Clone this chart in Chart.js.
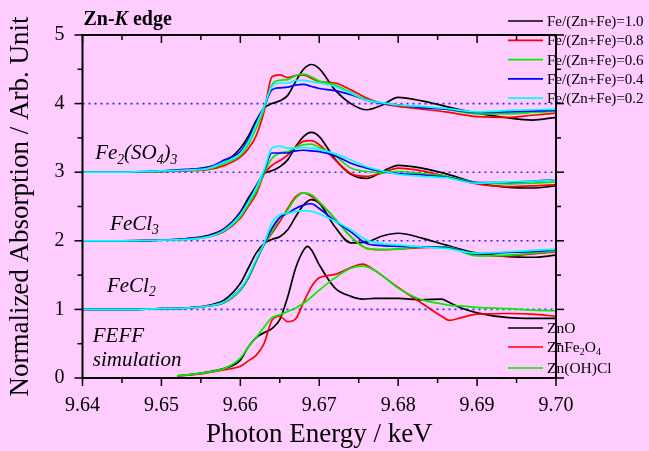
<!DOCTYPE html>
<html>
<head>
<meta charset="utf-8">
<script src="https://cdn.jsdelivr.net/npm/chart.js@4.4.1/dist/chart.umd.min.js"></script>
<style>
  html, body { margin: 0; padding: 0; background: #ffccff; }
  #wrap { width: 649px; height: 451px; position: relative; }
</style>
</head>
<body>
<div id="wrap"><canvas id="myChart"></canvas></div>
<script>
// energy grid of the measured spectra (keV)
const energy = [9.640, 9.645, 9.650, 9.653, 9.656, 9.658, 9.660, 9.661, 9.662, 9.663, 9.664, 9.665, 9.666, 9.667,
  9.668, 9.669, 9.670, 9.672, 9.674, 9.676, 9.678, 9.680, 9.683, 9.686, 9.690, 9.694, 9.697, 9.700];

// Fe2(SO4)3 group, offset +3
const so4_10 = [3.00, 3.00, 3.01, 3.03, 3.08, 3.15, 3.35, 3.52, 3.75, 3.93, 4.00, 4.04, 4.12, 4.32, 4.50, 4.57, 4.51, 4.20, 4.00, 3.91, 3.98, 4.09, 4.04, 3.96, 3.86, 3.79, 3.76, 3.80];
const so4_08 = [3.00, 3.00, 3.01, 3.02, 3.04, 3.10, 3.22, 3.34, 3.53, 3.88, 4.39, 4.42, 4.38, 4.41, 4.42, 4.37, 4.32, 4.30, 4.20, 4.08, 4.00, 3.96, 3.92, 3.88, 3.81, 3.80, 3.83, 3.86];
const so4_06 = [3.00, 3.00, 3.01, 3.03, 3.05, 3.13, 3.25, 3.40, 3.64, 3.92, 4.27, 4.34, 4.35, 4.41, 4.43, 4.39, 4.33, 4.27, 4.16, 4.06, 4.01, 3.98, 3.95, 3.92, 3.85, 3.85, 3.87, 3.89];
const so4_04 = [3.00, 3.00, 3.02, 3.04, 3.07, 3.18, 3.30, 3.47, 3.72, 3.95, 4.20, 4.23, 4.24, 4.27, 4.28, 4.25, 4.22, 4.19, 4.13, 4.05, 4.00, 3.98, 3.94, 3.92, 3.87, 3.88, 3.89, 3.90];
const so4_02 = [3.00, 3.00, 3.02, 3.03, 3.06, 3.15, 3.27, 3.44, 3.69, 3.95, 4.25, 4.30, 4.30, 4.34, 4.34, 4.32, 4.30, 4.25, 4.15, 4.05, 4.01, 3.98, 3.96, 3.93, 3.88, 3.90, 3.91, 3.92];

// FeCl3 group, offset +2
const fecl3_10 = [2.00, 2.00, 2.01, 2.03, 2.08, 2.18, 2.42, 2.62, 2.80, 2.98, 3.02, 3.08, 3.18, 3.37, 3.52, 3.58, 3.52, 3.19, 2.97, 2.91, 3.01, 3.10, 3.06, 2.98, 2.84, 2.78, 2.77, 2.80];
const fecl3_08 = [2.00, 2.00, 2.01, 2.02, 2.06, 2.14, 2.33, 2.50, 2.68, 2.97, 3.10, 3.17, 3.25, 3.37, 3.45, 3.46, 3.40, 3.18, 2.98, 2.94, 2.99, 3.06, 3.02, 2.94, 2.83, 2.79, 2.80, 2.82];
const fecl3_06 = [2.00, 2.00, 2.01, 2.02, 2.06, 2.15, 2.35, 2.53, 2.72, 2.98, 3.20, 3.28, 3.30, 3.36, 3.40, 3.41, 3.36, 3.24, 3.06, 3.01, 2.99, 3.01, 2.98, 2.94, 2.85, 2.83, 2.84, 2.86];
const fecl3_04 = [2.00, 2.00, 2.01, 2.03, 2.07, 2.17, 2.40, 2.58, 2.79, 3.01, 3.28, 3.28, 3.28, 3.31, 3.32, 3.31, 3.30, 3.24, 3.13, 3.06, 3.01, 2.98, 2.96, 2.93, 2.85, 2.85, 2.87, 2.89];
const fecl3_02 = [2.00, 2.00, 2.01, 2.02, 2.06, 2.16, 2.38, 2.56, 2.77, 3.03, 3.35, 3.38, 3.35, 3.35, 3.36, 3.35, 3.33, 3.27, 3.18, 3.08, 3.02, 2.97, 2.94, 2.92, 2.84, 2.86, 2.87, 2.89];

// FeCl2 group, offset +1
const fecl2_10 = [1.00, 1.00, 1.01, 1.02, 1.06, 1.14, 1.38, 1.60, 1.82, 1.96, 2.02, 2.06, 2.16, 2.35, 2.52, 2.60, 2.55, 2.20, 1.97, 1.98, 2.07, 2.11, 2.04, 1.94, 1.82, 1.77, 1.76, 1.79];
const fecl2_08 = [1.00, 1.00, 1.01, 1.02, 1.05, 1.10, 1.28, 1.45, 1.70, 1.94, 2.11, 2.28, 2.47, 2.64, 2.70, 2.65, 2.56, 2.32, 2.06, 1.89, 1.87, 1.88, 1.90, 1.91, 1.79, 1.78, 1.81, 1.84];
const fecl2_06 = [1.00, 1.00, 1.01, 1.02, 1.05, 1.10, 1.28, 1.45, 1.70, 1.94, 2.13, 2.33, 2.45, 2.62, 2.70, 2.67, 2.57, 2.32, 2.06, 1.89, 1.87, 1.88, 1.91, 1.91, 1.78, 1.79, 1.82, 1.85];
const fecl2_04 = [1.00, 1.00, 1.01, 1.02, 1.05, 1.11, 1.30, 1.47, 1.72, 1.95, 2.18, 2.34, 2.40, 2.47, 2.52, 2.54, 2.47, 2.29, 2.13, 1.96, 1.93, 1.92, 1.91, 1.90, 1.81, 1.83, 1.84, 1.87];
const fecl2_02 = [1.00, 1.00, 1.01, 1.02, 1.05, 1.11, 1.30, 1.48, 1.73, 1.96, 2.26, 2.38, 2.40, 2.43, 2.44, 2.43, 2.39, 2.29, 2.16, 2.01, 1.96, 1.94, 1.91, 1.89, 1.82, 1.84, 1.86, 1.88];

// FEFF simulation, no offset
const feffEnergy = [9.652, 9.655, 9.658, 9.660, 9.661, 9.662, 9.663, 9.664, 9.665, 9.666, 9.667, 9.668, 9.6685, 9.669,
  9.670, 9.672, 9.674, 9.6755, 9.677, 9.680, 9.683, 9.6855, 9.6865, 9.688, 9.690, 9.694, 9.697, 9.700];
const zno     = [0.03, 0.07, 0.14, 0.26, 0.45, 0.59, 0.66, 0.72, 0.85, 1.18, 1.60, 1.86, 1.92, 1.87, 1.65, 1.31, 1.19, 1.15, 1.16, 1.16, 1.14, 1.15, 1.10, 1.02, 0.95, 0.88, 0.87, 0.87];
const znfe2o4 = [0.03, 0.06, 0.12, 0.17, 0.25, 0.33, 0.50, 0.84, 0.90, 0.82, 0.86, 1.10, 1.22, 1.33, 1.46, 1.51, 1.61, 1.66, 1.57, 1.32, 1.09, 0.90, 0.84, 0.88, 0.93, 0.94, 0.93, 0.90];
const znohcl  = [0.03, 0.07, 0.14, 0.29, 0.45, 0.59, 0.74, 0.88, 0.92, 0.97, 1.02, 1.09, 1.13, 1.18, 1.28, 1.46, 1.60, 1.63, 1.57, 1.31, 1.14, 1.08, 1.06, 1.05, 1.03, 1.01, 0.99, 0.98];

const ratioLabels = ['Fe/(Zn+Fe)=1.0', 'Fe/(Zn+Fe)=0.8', 'Fe/(Zn+Fe)=0.6', 'Fe/(Zn+Fe)=0.4', 'Fe/(Zn+Fe)=0.2'];
const feffLabels = ['ZnO', 'ZnFe_{2}O_{4}', 'Zn(OH)Cl'];
const sampleLabels = ['Fe_{2}(SO_{4})_{3}', 'FeCl_{3}', 'FeCl_{2}', 'FEFF', 'simulation'];
const baselines = [1, 2, 3, 4];
const energyRange = [9.64, 9.70];
const absRange = [0, 5];

const SERIF = '"Liberation Serif", "Times New Roman", serif';
const ratioColors = ['#000000', '#ff0000', '#00ee00', '#0000ff', '#00ffff'];
const feffColors = ['#000000', '#ff0000', '#00ee00'];

// text with _{sub} subscripts
function drawRich(ctx, text, x, y, size, style) {
  const parts = text.split(/_\{([^}]*)\}/);
  parts.forEach((p, i) => {
    const sub = i % 2 === 1;
    ctx.font = style + ' ' + (sub ? size * 0.65 : size) + 'px ' + SERIF;
    ctx.fillText(p, x, sub ? y + size * 0.22 : y);
    x += ctx.measureText(p).width;
  });
}

const toPoints = (xs, ys) => ys.map((v, i) => ({ x: xs[i], y: v }));

const datasets = [];
baselines.forEach(b => {
  datasets.push({
    data: [{ x: energyRange[0], y: b }, { x: energyRange[1], y: b }],
    borderColor: '#2a2aff', borderWidth: 1.6, borderDash: [2, 4], order: 100
  });
});
const groups = [
  [so4_10, so4_08, so4_06, so4_04, so4_02],
  [fecl3_10, fecl3_08, fecl3_06, fecl3_04, fecl3_02],
  [fecl2_10, fecl2_08, fecl2_06, fecl2_04, fecl2_02]
];
groups.forEach(g => {
  g.forEach((series, i) => {
    datasets.push({
      label: ratioLabels[i],
      data: toPoints(energy, series),
      borderColor: ratioColors[i], borderWidth: 1.7, order: 10 - i
    });
  });
});
[zno, znfe2o4, znohcl].forEach((series, i) => {
  datasets.push({
    label: feffLabels[i],
    data: toPoints(feffEnergy, series),
    borderColor: feffColors[i], borderWidth: 1.7, order: 10 - i
  });
});

const decorPlugin = {
  id: 'decor',
  afterDatasetsDraw(chart) {
    const ctx = chart.ctx;
    const xs = chart.scales.x, ys = chart.scales.y;
    const area = chart.chartArea;
    ctx.save();
    ctx.fillStyle = '#000';
    ctx.textBaseline = 'alphabetic';
    // sample names inside the plot
    const labelAt = [[9.6416, 3.19], [9.6435, 2.16], [9.6431, 1.26], [9.6413, 0.53], [9.6413, 0.175]];
    sampleLabels.forEach((t, i) => {
      drawRich(ctx, t, xs.getPixelForValue(labelAt[i][0]), ys.getPixelForValue(labelAt[i][1]), 21, 'italic');
    });
    // legends
    ctx.lineWidth = 1.7;
    ratioLabels.forEach((t, i) => {
      const yy = area.top - 14 + i * 19.3;
      ctx.strokeStyle = ratioColors[i];
      ctx.beginPath(); ctx.moveTo(area.right - 48, yy); ctx.lineTo(area.right - 13, yy); ctx.stroke();
      drawRich(ctx, t, area.right - 9, yy + 5, 15, '');
    });
    const feffRows = [-50, -31, -10];
    feffLabels.forEach((t, i) => {
      const yy = area.bottom + feffRows[i];
      ctx.strokeStyle = feffColors[i];
      ctx.beginPath(); ctx.moveTo(area.right - 48, yy); ctx.lineTo(area.right - 13, yy); ctx.stroke();
      drawRich(ctx, t, area.right - 9, yy + 5, 15.5, '');
    });
    ctx.restore();
  },
  afterDraw(chart) {
    const ctx = chart.ctx;
    const xs = chart.scales.x, ys = chart.scales.y;
    const area = chart.chartArea;
    ctx.save();
    ctx.strokeStyle = '#000';
    ctx.lineWidth = 2;
    ctx.strokeRect(area.left, area.top, area.right - area.left, area.bottom - area.top);
    ctx.lineWidth = 1.5;
    const seg = (a, b, c, d) => { ctx.beginPath(); ctx.moveTo(a, b); ctx.lineTo(c, d); ctx.stroke(); };
    xs.ticks.forEach(t => {
      const px = xs.getPixelForValue(t.value);
      const len = t.label ? 8 : 5;
      seg(px, area.bottom, px, area.bottom + len);
      seg(px, area.top, px, area.top + len);
    });
    ys.ticks.forEach(t => {
      const py = ys.getPixelForValue(t.value);
      const len = t.label ? 8 : 5;
      seg(area.left - len, py, area.left, py);
      seg(area.right, py, area.right + len, py);
    });
    // "Zn-K edge"
    ctx.fillStyle = '#000';
    ctx.textBaseline = 'alphabetic';
    let x0 = area.left + 1;
    const yT = area.top - 10;
    ctx.font = 'bold 20px ' + SERIF;
    ctx.fillText('Zn-', x0, yT); x0 += ctx.measureText('Zn-').width;
    ctx.font = 'bold italic 20px ' + SERIF;
    ctx.fillText('K', x0, yT); x0 += ctx.measureText('K').width;
    ctx.font = 'bold 20px ' + SERIF;
    ctx.fillText(' edge', x0, yT);
    ctx.restore();
  }
};

Chart.defaults.font.family = SERIF;
Chart.defaults.color = '#000';

const ctx = document.getElementById('myChart').getContext('2d');
window.myChart = new Chart(ctx, {
  type: 'line',
  data: { datasets: datasets },
  options: {
    responsive: true,
    maintainAspectRatio: false,
    animation: false,
    layout: { padding: { top: 35, right: 93, left: 0, bottom: 0 } },
    elements: {
      point: { radius: 0 },
      line: { cubicInterpolationMode: 'monotone', fill: false }
    },
    plugins: { legend: { display: false }, tooltip: { enabled: false } },
    scales: {
      x: {
        type: 'linear',
        min: energyRange[0], max: energyRange[1],
        grid: { display: false },
        border: { display: false },
        ticks: {
          stepSize: 0.005, maxTicksLimit: 20, autoSkip: false, maxRotation: 0, padding: 8,
          font: { size: 20 },
          callback: v => Math.abs(v * 100 - Math.round(v * 100)) < 1e-6 ? v.toFixed(2) : ''
        },
        title: { display: true, text: 'Photon Energy / keV', font: { size: 27 }, padding: 0 },
        afterFit: s => { s.height = 73; }
      },
      y: {
        min: absRange[0], max: absRange[1],
        grid: { display: false },
        border: { display: false },
        ticks: {
          stepSize: 0.5, maxTicksLimit: 20, autoSkip: false, padding: 10,
          font: { size: 20 },
          callback: v => Number.isInteger(v) ? String(v) : ''
        },
        title: { display: true, text: 'Normalized Absorption / Arb. Unit', font: { size: 27 }, padding: { top: 5, bottom: 0 } },
        afterFit: s => { s.width = 82.5; }
      }
    }
  },
  plugins: [decorPlugin]
});
</script>
</body>
</html>
